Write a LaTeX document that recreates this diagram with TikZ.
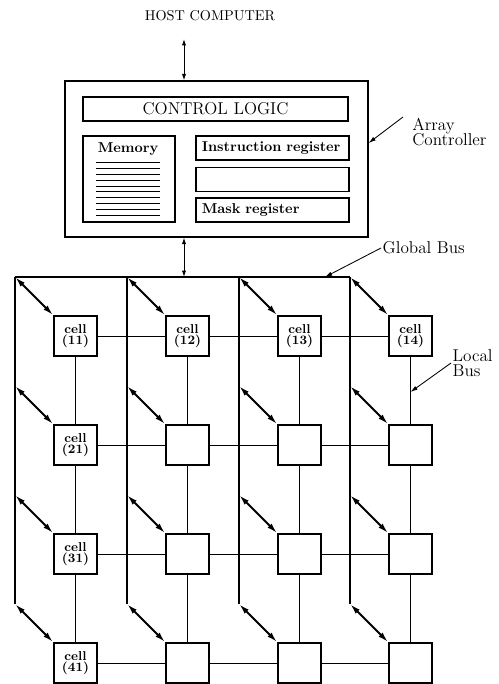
\documentclass[tikz,border=0pt]{standalone}
\usepackage{tikz}
\usetikzlibrary{arrows.meta}
\tikzstyle{box}=[draw,rectangle,line width=0.9pt,inner sep=0]
\tikzstyle{reg}=[box,minimum height=16.8pt,text width=99pt,inner xsep=4pt,align=left,font=\bfseries]
\tikzstyle{cell}=[box,line width=1pt,minimum width=30.1pt,minimum height=28pt,align=center,font=\small\bfseries]
\tikzstyle{lbl}=[font=\large,align=left,inner sep=1pt]
\tikzstyle{bus}=[line width=1.4pt]
\tikzstyle{tap}=[line width=1.4pt,{Latex[length=7.5pt,width=4pt]}-{Latex[length=7.5pt,width=4pt]}]
\tikzstyle{port}=[line width=0.7pt,{Latex[length=4.5pt,width=3pt]}-{Latex[length=4.5pt,width=3pt]}]
\tikzstyle{pointer}=[line width=0.6pt,-{Latex[length=5pt,width=3pt]}]
\tikzstyle{link}=[line width=0.6pt]

\begin{document}
\begin{tikzpicture}[x=0.7pt,y=-0.7pt]
\useasboundingbox (0,0) rectangle (498,684);

% % % controller
	\node (host) at (210,16) {HOST COMPUTER};
	\node[box,minimum width=212.1pt,minimum height=109.2pt] (ctrl) at (216.5,159) {};
	\node[box,minimum width=185.5pt,minimum height=16.8pt,font=\large] (logic) at (215.5,109) {CONTROL LOGIC};
	\node[box,minimum width=64.4pt,minimum height=60.2pt] (mem) at (129,179) {};
	\node[font=\bfseries] (memlbl) at (128,149) {Memory};
	\node[reg] (ireg) at (272.5,148) {Instruction register};
	\node[reg] (spare) at (272.5,179.5) {};
	\node[reg] (mreg) at (272.5,210) {Mask register};

	\draw[line width=0.7pt] (96,162) -- (160,162) (96,168) -- (160,168)
	    (96,174) -- (160,174) (96,180) -- (160,180) (96,186) -- (160,186)
	    (96,191) -- (160,191) (96,197) -- (160,197) (96,203) -- (160,203)
	    (96,209) -- (160,209) (96,215) -- (160,215);

	\coordinate (hostport) at (184,39);
	\path[draw,port] (hostport) -- (hostport |- ctrl.north);

	\node[lbl,anchor=north west,inner xsep=6.3pt] (actl) at (403,117) {Array\\[-3.5pt]Controller};
	\path[draw,pointer] (actl.north west) -- (ctrl.east |- 0,143);

% % % buses
	\coordinate (bus1) at (15,277);
	\coordinate (bus2) at (127,277);
	\coordinate (bus3) at (239,277);
	\coordinate (bus4) at (350,277);
	\coordinate (tap2) at (0,386);
	\coordinate (tap3) at (0,495);
	\coordinate (tap4) at (0,604);

	\path[draw,port] (hostport |- ctrl.south) -- (hostport |- bus1);
	\path[draw,bus] (bus1) -- (bus4);
	\path[draw,bus] (bus1) -- (bus1 |- tap4);
	\path[draw,bus] (bus2) -- (bus2 |- tap4);
	\path[draw,bus] (bus3) -- (bus3 |- tap4);
	\path[draw,bus] (bus4) -- (bus4 |- tap4);

% % % cells
	\node[cell] (c11) at (75.5,336) {cell\\[-3pt](11)};
	\node[cell] (c12) at (187.5,336) {cell\\[-3pt](12)};
	\node[cell] (c13) at (299.5,336) {cell\\[-3pt](13)};
	\node[cell] (c14) at (410.5,336) {cell\\[-3pt](14)};

	\node[cell] (c21) at (75.5,445) {cell\\[-3pt](21)};
	\node[cell] (c22) at (187.5,445) {};
	\node[cell] (c23) at (299.5,445) {};
	\node[cell] (c24) at (410.5,445) {};

	\node[cell] (c31) at (75.5,554) {cell\\[-3pt](31)};
	\node[cell] (c32) at (187.5,554) {};
	\node[cell] (c33) at (299.5,554) {};
	\node[cell] (c34) at (410.5,554) {};

	\node[cell] (c41) at (75.5,663) {cell\\[-3pt](41)};
	\node[cell] (c42) at (187.5,663) {};
	\node[cell] (c43) at (299.5,663) {};
	\node[cell] (c44) at (410.5,663) {};

	\path[draw,tap] (bus1) -- (c11.north west);
	\path[draw,tap] (bus2) -- (c12.north west);
	\path[draw,tap] (bus3) -- (c13.north west);
	\path[draw,tap] (bus4) -- (c14.north west);
	\path[draw,tap] (bus1 |- tap2) -- (c21.north west);
	\path[draw,tap] (bus2 |- tap2) -- (c22.north west);
	\path[draw,tap] (bus3 |- tap2) -- (c23.north west);
	\path[draw,tap] (bus4 |- tap2) -- (c24.north west);
	\path[draw,tap] (bus1 |- tap3) -- (c31.north west);
	\path[draw,tap] (bus2 |- tap3) -- (c32.north west);
	\path[draw,tap] (bus3 |- tap3) -- (c33.north west);
	\path[draw,tap] (bus4 |- tap3) -- (c34.north west);
	\path[draw,tap] (bus1 |- tap4) -- (c41.north west);
	\path[draw,tap] (bus2 |- tap4) -- (c42.north west);
	\path[draw,tap] (bus3 |- tap4) -- (c43.north west);
	\path[draw,tap] (bus4 |- tap4) -- (c44.north west);

	% local bus, rows
	\path[draw,link] (c11) -- (c12) (c12) -- (c13) (c13) -- (c14);
	\path[draw,link] (c21) -- (c22) (c22) -- (c23) (c23) -- (c24);
	\path[draw,link] (c31) -- (c32) (c32) -- (c33) (c33) -- (c34);
	\path[draw,link] (c41) -- (c42) (c42) -- (c43) (c43) -- (c44);
	% local bus, columns
	\path[draw,link] (c11) -- (c21) (c21) -- (c31) (c31) -- (c41);
	\path[draw,link] (c12) -- (c22) (c22) -- (c32) (c32) -- (c42);
	\path[draw,link] (c13) -- (c23) (c23) -- (c33) (c33) -- (c43);
	\path[draw,link] (c14) -- (c24) (c24) -- (c34) (c34) -- (c44);

	\node[lbl,anchor=west] (gbus) at (381,248) {Global Bus};
	\coordinate (gtip) at (325,277);
	\path[draw,pointer] (gbus.west) -- (gtip);

	\node[lbl,anchor=west] (lbus) at (451,363) {Local\\[-3.5pt]Bus};
	\coordinate (ltip) at (410.5,392);
	\path[draw,pointer] (lbus.west) -- (ltip);
\end{tikzpicture}
\end{document}
